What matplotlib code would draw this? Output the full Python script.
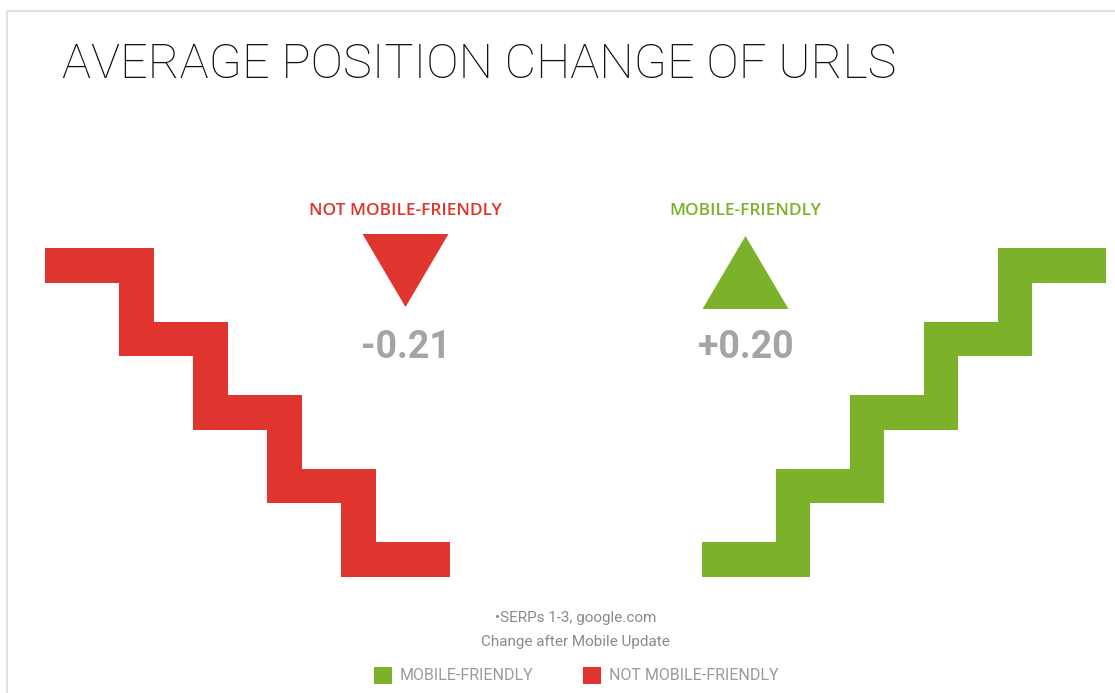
import matplotlib
matplotlib.use("Agg")
from matplotlib import pyplot as plt
from matplotlib.patches import Polygon, Rectangle

# data
title = "AVERAGE POSITION CHANGE OF URLS"
groups = ["NOT MOBILE-FRIENDLY", "MOBILE-FRIENDLY"]
changes = [-0.21, 0.20]
colors = ["#e0352f", "#7bb22a"]
footnotes = ["•SERPs 1-3, google.com", "Change after Mobile Update"]
legend_labels = ["MOBILE-FRIENDLY", "NOT MOBILE-FRIENDLY"]
legend_colors = ["#7bb22a", "#e0352f"]
n_steps = 4

W, H = 1115, 693
fig = plt.figure(figsize=(W / 100, H / 100), dpi=100)
ax = fig.add_axes([0, 0, 1, 1])
ax.set_xlim(0, W)
ax.set_ylim(H, 0)
ax.axis("off")

# frame
ax.plot([7, 7, W], [H, 11, 11], color="#dcdcdc", lw=1.2)


def stairs(x0, y0, dx, dy, t, n):
    up = [(x0, y0)]
    for i in range(n):
        up.append((x0 + (i + 1) * dx + t, y0 + i * dy))
        up.append((x0 + (i + 1) * dx + t, y0 + (i + 1) * dy))
    up.append((x0 + (n + 1) * dx + t, y0 + n * dy))
    low = [(x0 + (n + 1) * dx + t, y0 + n * dy + t)]
    for i in range(n - 1, -1, -1):
        low.append((x0 + (i + 1) * dx, y0 + (i + 1) * dy + t))
        low.append((x0 + (i + 1) * dx, y0 + i * dy + t))
    low.append((x0, y0 + t))
    return up + low


cx = 575.5
tw, th = 86, 73
for name, val, col in zip(groups, changes, colors):
    pts = stairs(45, 248, 74, 73.5, 34.5, n_steps)
    side = -1 if val < 0 else 1
    if side > 0:
        pts = [(2 * cx - x, y) for x, y in pts]
    ax.add_patch(Polygon(pts, closed=True, color=col, lw=0))
    tx = cx + side * 170
    top = 234 if val < 0 else 236
    if val < 0:
        tri = [(tx - tw / 2, top), (tx + tw / 2, top), (tx, top + th)]
    else:
        tri = [(tx, top), (tx + tw / 2, top + th), (tx - tw / 2, top + th)]
    ax.add_patch(Polygon(tri, closed=True, color=col, lw=0))
    ax.text(tx, 211, name, ha="center", va="center", color=col,
            fontsize=12.5, family="Open Sans", fontweight="semibold")
    ax.text(tx, 347, f"{val:+.2f}", ha="center", va="center",
            color="#a4a4a4", fontsize=27, family="Roboto", fontweight="bold")

ax.text(62, 65, title, ha="left", va="center", color="#111111",
        fontsize=35, family="Roboto", fontweight="light")

ax.text(cx, 618, footnotes[0], ha="center", va="center", color="#8a8a8a",
        fontsize=11, family="Roboto")
ax.text(cx, 642, footnotes[1], ha="center", va="center", color="#8a8a8a",
        fontsize=11, family="Roboto")

lx = [374, 583]
for x, lab, col in zip(lx, legend_labels, legend_colors):
    ax.add_patch(Rectangle((x, 667), 18, 17, color=col, lw=0))
    ax.text(x + 26, 676, lab, ha="left", va="center", color="#9a9a9a",
            fontsize=11.5, family="Roboto")

plt.savefig("out.png", dpi=100, facecolor="white")
